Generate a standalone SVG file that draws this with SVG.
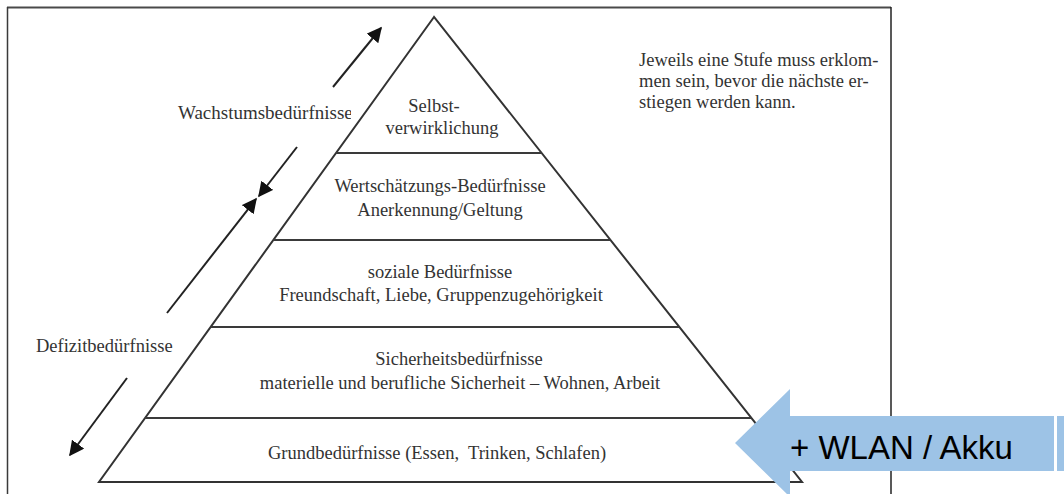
<svg xmlns="http://www.w3.org/2000/svg" width="1064" height="494" viewBox="0 0 1064 494">
<defs>
<style>
.t{font-family:"Liberation Serif","Times New Roman",serif;font-size:18.5px;fill:#333;white-space:pre}
.c{text-anchor:middle}
.ln{stroke:#3a3a3a;stroke-width:2;fill:none}
.ar{stroke:#222;stroke-width:2;fill:none;marker-end:url(#ah)}
</style>
<marker id="ah" viewBox="0 0 10 10" refX="9" refY="5" markerWidth="7.5" markerHeight="7.5" orient="auto" markerUnits="strokeWidth">
<path d="M0,0 L10,5 L0,10 z" fill="#111"/>
</marker>
<clipPath id="wclip"><rect x="0" y="0" width="351" height="494"/></clipPath>
</defs>
<rect x="0" y="0" width="1064" height="494" fill="#fff"/>
<g id="frame">
<line x1="7" y1="7.5" x2="891" y2="7.5" stroke="#4a4a4a" stroke-width="2"/>
<line x1="7.5" y1="7" x2="7.5" y2="494" stroke="#3a3a3a" stroke-width="1.5"/>
<line x1="891" y1="7" x2="891" y2="494" stroke="#222" stroke-width="1.5"/>
</g>
<g id="label-wachstum"><text class="t" x="178" y="119" style="font-size:19px" clip-path="url(#wclip)">Wachstumsbedürfnisse</text></g>
<g id="label-defizit"><text class="t" x="36" y="352">Defizitbedürfnisse</text></g>
<g id="pyramid">
<polygon points="434,17 99,482 802,482" fill="#fff" stroke="#333" stroke-width="2" stroke-linejoin="miter"/>
<line class="ln" x1="336" y1="153" x2="541.6" y2="153"/>
<line class="ln" x1="273.3" y1="240" x2="610.5" y2="240"/>
<line class="ln" x1="210.7" y1="327" x2="679.3" y2="327"/>
<line class="ln" x1="145.1" y1="418" x2="751.4" y2="418"/>
</g>
<g id="level-selbst">
<text class="t c" x="434" y="112">Selbst-</text>
<text class="t c" x="442" y="134">verwirklichung</text>
</g>
<g id="level-wertschaetzung">
<text class="t c" x="440" y="192">Wertschätzungs-Bedürfnisse</text>
<text class="t c" x="440" y="216">Anerkennung/Geltung</text>
</g>
<g id="level-sozial">
<text class="t c" x="440" y="278">soziale Bedürfnisse</text>
<text class="t c" x="441" y="301">Freundschaft, Liebe, Gruppenzugehörigkeit</text>
</g>
<g id="level-sicherheit">
<text class="t c" x="459" y="365">Sicherheitsbedürfnisse</text>
<text class="t c" x="460" y="389">materielle und berufliche Sicherheit – Wohnen, Arbeit</text>
</g>
<g id="level-grund">
<text class="t c" x="437" y="459">Grundbedürfnisse (Essen,  Trinken, Schlafen)</text>
</g>
<g id="note">
<text class="t" x="639" y="66">Jeweils eine Stufe muss erklom-</text>
<text class="t" x="639" y="87">men sein, bevor die nächste er-</text>
<text class="t" x="639" y="108">stiegen werden kann.</text>
</g>
<g id="connectors">
<line class="ar" x1="333" y1="87" x2="381" y2="28"/>
<line class="ar" x1="297" y1="147" x2="259" y2="196"/>
<line class="ar" x1="167" y1="313" x2="256" y2="199"/>
<line class="ar" x1="127" y1="378" x2="70" y2="455"/>
</g>
<g id="wlan-arrow">
<polygon points="735,443 790,389 790,416 1054,416 1054,471 790,471 790,497" fill="#9DC3E6"/>
<rect x="1057" y="416" width="7" height="55" fill="#9DC3E6"/>
<text x="790" y="459" font-family="Liberation Sans, Arial, sans-serif" font-size="33" fill="#000">+ WLAN / Akku</text>
</g>
</svg>
